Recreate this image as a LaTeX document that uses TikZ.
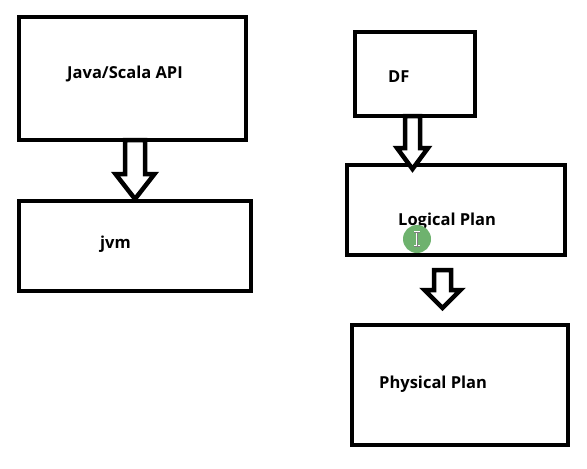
\documentclass[tikz,border=0pt]{standalone}
\usepackage{fontspec}
\setmainfont{Open Sans}
\tikzset{
  box/.style={draw, line width=4.5pt, minimum width=#1, inner sep=0pt},
  lbl/.style={anchor=base west, inner sep=0pt, font=\fontsize{16.5}{19}\selectfont\bfseries},
  hollow/.style={draw, fill=white, line width=4.5pt}
}
\begin{document}
\begin{tikzpicture}[x=1pt, y=-1pt]
    \useasboundingbox (0,0) rectangle (587,469);
    % boxes
    \node[box=227pt, minimum height=123pt] (api) at (132.5,78.5) {};
    \node[box=232pt, minimum height=90pt] (jvm) at (135,246) {};
    \node[box=120pt, minimum height=84pt] (df) at (415,74) {};
    \node[box=218pt, minimum height=90pt] (logical) at (456,210) {};
    \node[box=216pt, minimum height=120pt] (physical) at (460,385) {};
    % labels
    \node[lbl] (apitext) at (67,78) {Java/Scala API};
    \node[lbl] (jvmtext) at (100,248) {jvm};
    \node[lbl] (dftext) at (388,82) {DF};
    \node[lbl] (logicaltext) at (398,225) {Logical Plan};
    \node[lbl] (physicaltext) at (379,388) {Physical Plan};
    % hollow arrows between the boxes
    \foreach \x/\t/\w/\p/\s/\h in {135/140/174/199/10/19.5, 412.5/116/148/169/7.5/15.5, 442.5/270/290/308/8.5/18}
        \draw[hollow] (\x-\s,\t) -- (\x-\s,\w) -- (\x-\h,\w) -- (\x,\p) -- (\x+\h,\w) -- (\x+\s,\w) -- (\x+\s,\t) -- cycle;
    % cursor
    \node[circle, fill={rgb,255:red,110;green,178;blue,110}, minimum size=28pt, inner sep=0pt] (cursor) at (417,239) {};
    \draw[white, line width=2.5pt] (414,232) -- (420,232) (417,232) -- (417,246) (414,246) -- (420,246);
    \draw[gray, line width=0.8pt] (414,232) -- (420,232) (417,232) -- (417,246) (414,246) -- (420,246);
\end{tikzpicture}
\end{document}
